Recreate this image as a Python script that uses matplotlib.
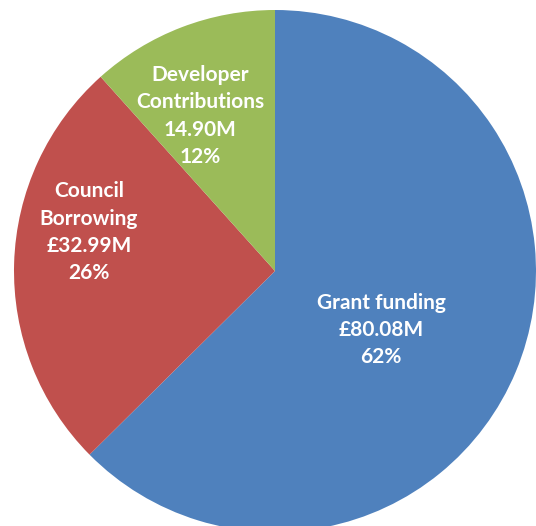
import matplotlib
matplotlib.use('Agg')
import matplotlib.pyplot as plt

# funding sources (values in £M)
sources = ['Grant funding', 'Council\nBorrowing', 'Developer\nContributions']
amounts = [80.08, 32.99, 14.90]
amount_labels = ['£80.08M', '£32.99M', '14.90M']
pct_labels = ['62%', '26%', '12%']
colors = ['#4F81BD', '#C0504D', '#9BBB59']

# label block centres (axes data units, pie radius = 1)
label_pos = [(0.406, -0.226), (-0.713, 0.149), (-0.287, 0.594)]

fig = plt.figure(figsize=(5.36, 5.26), dpi=100)
ax = fig.add_axes([0, 0, 1, 1])

wedges, _ = ax.pie(amounts, colors=colors, startangle=90, counterclock=False,
                   radius=1.0, center=(0, 0))

for name, lab, pct, pos in zip(sources, amount_labels, pct_labels, label_pos):
    ax.text(pos[0], pos[1], f'{name}\n{lab}\n{pct}', ha='center', va='center',
            color='white', fontsize=15, fontweight='bold', family='Lato',
            linespacing=1.45)

# place pie: centre at (275, 271) px, radius 261 px
ax.set_xlim(-275 / 261, (536 - 275) / 261)
ax.set_ylim((271 - 526) / 261, 271 / 261)
ax.set_aspect('auto')
ax.axis('off')

fig.savefig('out.png', dpi=100)
